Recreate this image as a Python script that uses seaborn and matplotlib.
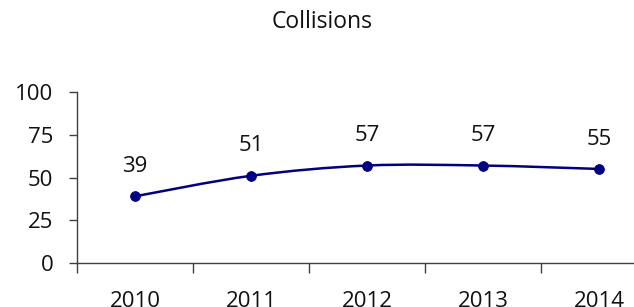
import matplotlib
matplotlib.use("Agg")
import matplotlib.pyplot as plt
import seaborn as sns
import pandas as pd
import numpy as np
from matplotlib.path import Path
from matplotlib.patches import PathPatch

# data
years = ["2010", "2011", "2012", "2013", "2014"]
collisions = [39, 51, 57, 57, 55]

df = pd.DataFrame({"Year": years, "Collisions": collisions})
df["pos"] = range(len(df))

sns.set_style("white")
plt.rcParams['font.family'] = ['Open Sans', 'DejaVu Sans']

fig = plt.figure(figsize=(6.34, 3.07), dpi=100)
ax = fig.add_axes([77/634, 44/307, 580/634, 171/307])

navy = "#000080"
txt = "#111111"

# smoothed line (Catmull-Rom -> cubic bezier)
xs = df["pos"].to_numpy(dtype=float)
ys = df["Collisions"].to_numpy(dtype=float)
verts = [(xs[0], ys[0])]
codes = [Path.MOVETO]
for i in range(len(xs) - 1):
    p0 = np.array([xs[max(i-1, 0)], ys[max(i-1, 0)]])
    p1 = np.array([xs[i], ys[i]])
    p2 = np.array([xs[i+1], ys[i+1]])
    p3 = np.array([xs[min(i+2, len(xs)-1)], ys[min(i+2, len(xs)-1)]])
    c1 = p1 + (p2 - p0) / 6
    c2 = p2 - (p3 - p1) / 6
    verts += [tuple(c1), tuple(c2), tuple(p2)]
    codes += [Path.CURVE4] * 3
ax.add_patch(PathPatch(Path(verts, codes), facecolor="none", edgecolor=navy, lw=1.8))

sns.scatterplot(data=df, x="pos", y="Collisions", color=navy, s=50, edgecolor=navy,
                zorder=3, ax=ax, legend=False)

for x, y in zip(xs, ys):
    ax.annotate(f"{int(y)}", (x, y), xytext=(0, 14), textcoords="offset points",
                ha="center", va="bottom", fontsize=16, color=txt)

ax.set_xlim(-0.5, 4.5)
ax.set_ylim(0, 100)
ax.set_yticks([0, 25, 50, 75, 100])
ax.set_xticks(range(len(years)))
ax.set_xticklabels(years)
ax.set_xticks(np.arange(-0.5, 5.0, 1.0), minor=True)
ax.tick_params(axis="x", which="major", length=0, pad=20, labelsize=16, labelcolor=txt)
ax.tick_params(axis="x", which="minor", length=7, width=1, color="#404040", direction="out", bottom=True)
ax.tick_params(axis="y", length=6, width=1, color="#404040", direction="out", left=True,
               labelsize=16, labelcolor=txt, pad=11)
ax.set_xlabel("")
ax.set_ylabel("")
for s in ["top", "right"]:
    ax.spines[s].set_visible(False)
for s in ["left", "bottom"]:
    ax.spines[s].set_color("#404040")
    ax.spines[s].set_linewidth(1)

fig.text(322/634, 1 - 22/307, "Collisions", ha="center", va="center", fontsize=16.5, color=txt)

fig.savefig("out.png", dpi=100)
